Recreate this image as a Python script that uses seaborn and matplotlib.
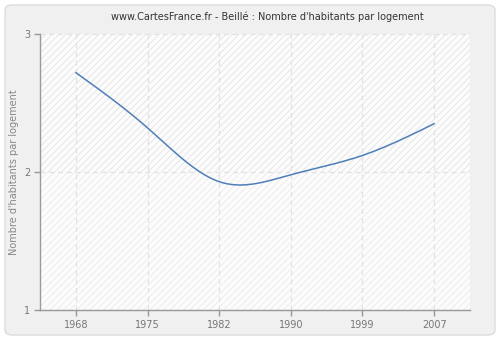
import numpy as np
import pandas as pd
import matplotlib
matplotlib.use("Agg")
import matplotlib.pyplot as plt
import seaborn as sns
from matplotlib.patches import FancyBboxPatch

# ---- data ----
years = ["1968", "1975", "1982", "1990", "1999", "2007"]
values = [2.72, 2.32, 1.93, 1.98, 2.12, 2.35]
y_ticks = [1, 2, 3]
title = "www.CartesFrance.fr - Beillé : Nombre d'habitants par logement"
y_label = "Nombre d'habitants par logement"


def natural_spline(yv, per_seg=40):
    """Smooth rendering of the series (natural cubic spline on category positions)."""
    yv = np.asarray(yv, float)
    n = len(yv)
    A = np.zeros((n, n))
    b = np.zeros(n)
    A[0, 0] = A[-1, -1] = 1
    for i in range(1, n - 1):
        A[i, i - 1], A[i, i], A[i, i + 1] = 1, 4, 1
        b[i] = 6 * (yv[i + 1] - 2 * yv[i] + yv[i - 1])
    M = np.linalg.solve(A, b)
    xs, ys = [], []
    for i in range(n - 1):
        t = np.linspace(0, 1, per_seg, endpoint=(i == n - 2))
        s = ((1 - t) * yv[i] + t * yv[i + 1]
             + ((1 - t) ** 3 - (1 - t)) * M[i] / 6
             + (t ** 3 - t) * M[i + 1] / 6)
        xs.append(i + t)
        ys.append(s)
    return np.concatenate(xs), np.concatenate(ys)


sns.set_theme(style="white")
plt.rcParams["font.family"] = ["DejaVu Sans"]
plt.rcParams["hatch.linewidth"] = 0.6

W, H = 500, 340
fig = plt.figure(figsize=(W / 100, H / 100), dpi=100)
fig.patch.set_facecolor("white")
fig.patches.append(FancyBboxPatch((5 / W, 5 / H), 490 / W, 330 / H,
                                  boxstyle="round,pad=0,rounding_size=0.015",
                                  transform=fig.transFigure, facecolor="#f0f0f0",
                                  edgecolor="#dcdcdc", linewidth=1, zorder=-10))

ax = fig.add_axes([40 / W, 30 / H, 430 / W, 276 / H])
ax.set_facecolor("#fcfcfc")

# hatched bands
ax.axhspan(2, 3, facecolor="none", hatch="/////", edgecolor="#e2e2e2", linewidth=0, zorder=0)
ax.axhspan(1, 2, facecolor="none", hatch="/////", edgecolor="#ebebeb", linewidth=0, zorder=0)

xs, ys = natural_spline(values)
df = pd.DataFrame({"x": xs, "y": ys})
sns.lineplot(data=df, x="x", y="y", ax=ax, color="#4f7fb8", linewidth=1.1, zorder=3)

ax.set_xlim(-0.5, len(years) - 0.5)
ax.set_ylim(1, 3)
ax.set_xticks(range(len(years)))
ax.set_xticklabels(years)
ax.set_yticks(y_ticks)
ax.set_yticklabels([str(t) for t in y_ticks])

ax.grid(True, color="#e2e2e2", linestyle=(0, (4, 3)), linewidth=0.9)
ax.set_axisbelow(True)
for s in ["top", "right"]:
    ax.spines[s].set_visible(False)
for s in ["left", "bottom"]:
    ax.spines[s].set_color("#999999")
    ax.spines[s].set_linewidth(1)

ax.tick_params(axis="both", which="both", length=4, width=1, color="#999999",
               labelsize=7, labelcolor="#777777", pad=3, left=True, bottom=True)
ax.set_xlabel("")
ax.set_ylabel("")
fig.text(14 / W, 1 - 172 / H, y_label, rotation=90, ha="center", va="center",
         fontsize=7, color="#888888")

fig.text(267.5 / W, 1 - 17 / H, title, ha="center", va="center", fontsize=7, color="#333333")

fig.savefig("out.png", dpi=100)
